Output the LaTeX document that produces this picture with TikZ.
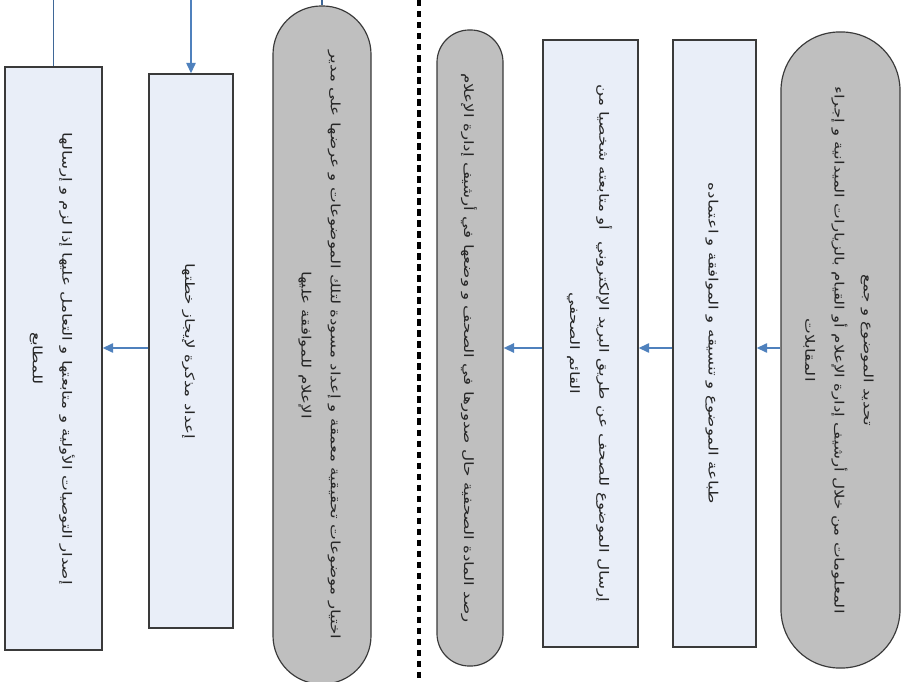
\documentclass[tikz,border=0pt]{standalone}
\usepackage{fontspec}
\usepackage{graphicx}
\usepackage{tikz}
\usetikzlibrary{arrows.meta}
\TeXXeTstate=1
\newfontfamily\arabicfont[Script=Arabic]{DejaVu Sans}
\definecolor{flowblue}{HTML}{4F81BD}
\definecolor{boxblue}{HTML}{E9EEF8}
\definecolor{termgray}{HTML}{BFBFBF}
\definecolor{edgegray}{HTML}{3A3A3A}
\newcommand\rl[1]{\scalebox{1.3}[1]{\beginR #1\endR}}
\newcommand\vtext[1]{\rotatebox{-90}{\arabicfont\fontsize{11}{25}\selectfont\color{black!85}\begin{tabular}{@{}c@{}}#1\end{tabular}}}
\tikzset{
	stepbox/.style={draw=edgegray, fill=boxblue, line width=1.1pt, inner sep=0pt},
	termbox/.style={draw=edgegray, fill=termgray, line width=1pt, inner sep=0pt, rounded corners=#1},
	flow/.style={draw=flowblue, line width=1.5pt, -{Triangle[length=9pt,width=8pt]}},
	feed/.style={draw=flowblue!80!black, line width=1.2pt}
}

\begin{document}
\begin{tikzpicture}[x=0.03cm, y=-0.03cm]
			%%%%% START %%%%%
			\useasboundingbox (0, 0) rectangle (903, 682);
			\coordinate (mid) at (0, 348);
			
			\node[termbox=1.75cm, minimum width=3.57cm, minimum height=19.08cm] (b1) at (840.5, 350) {\vtext{\rl{تحديد الموضوع و جمع}\\ \rl{المعلومات من خلال أرشيف إدارة الإعلام أو القيام بالزيارات الميدانية و إجراء}\\ \rl{المقابلات}}};
			\node[stepbox, minimum width=2.49cm, minimum height=18.21cm] (b2) at (714.5, 343.5) {\vtext{\rl{طباعة الموضوع و تنسيقه و الموافقة و اعتماده}}};
			\node[stepbox, minimum width=2.85cm, minimum height=18.21cm] (b3) at (590.5, 343.5) {\vtext{\rl{إرسال الموضوع للصحف عن طريق البريد الإلكتروني \ أو متابعته شخصيا من}\\ \rl{القائم الصحفي}}};
			\node[termbox=0.97cm, minimum width=1.98cm, minimum height=19.08cm] (b4) at (470, 348) {\vtext{\rl{رصد المادة الصحفية حال صدورها في الصحف و وضعها في أرشيف إدارة الإعلام}}};
			
			% separator
			\draw[line width=4pt, dash pattern=on 5.5pt off 3.9pt] (419, 0) -- (419, 682);
			
			\node[termbox=1.45cm, minimum width=2.94cm, minimum height=20.34cm] (b5) at (322, 345) {\vtext{\rl{اختيار موضوعات تحقيقية معمقة و إعداد مسودة لتلك الموضوعات و عرضها على مدير}\\ \rl{الإعلام للموافقة عليها}}};
			\node[stepbox, minimum width=2.52cm, minimum height=16.62cm] (b6) at (191, 351) {\vtext{\rl{إعداد مذكرة لإيجاز خطتها}}};
			\node[stepbox, minimum width=2.91cm, minimum height=17.49cm] (b7) at (53.5, 358.5) {\vtext{\rl{إصدار التوصيات الأولية و متابعتها و التعامل عليها إذا لزم و إرسالها}\\ \rl{للمطابع}}};
			
			% links
			\coordinate (t5) at (322, 0);
			\coordinate (t6) at (191, 0);
			\coordinate (t7) at (53.5, 0);
			\draw[flow] (b1.west |- mid) -- (b2.east |- mid);
			\draw[flow] (b2.west |- mid) -- (b3.east |- mid);
			\draw[flow] (b3.west |- mid) -- (b4.east |- mid);
			\draw[flow] (b6.west |- mid) -- (b7.east |- mid);
			\draw[flow] (t6) -- (b6.north);
			\draw[feed] (t5) -- (b5.north);
			\draw[feed] (t7) -- (b7.north);
			
			%%%%% END %%%%%
		\end{tikzpicture}
\end{document}
